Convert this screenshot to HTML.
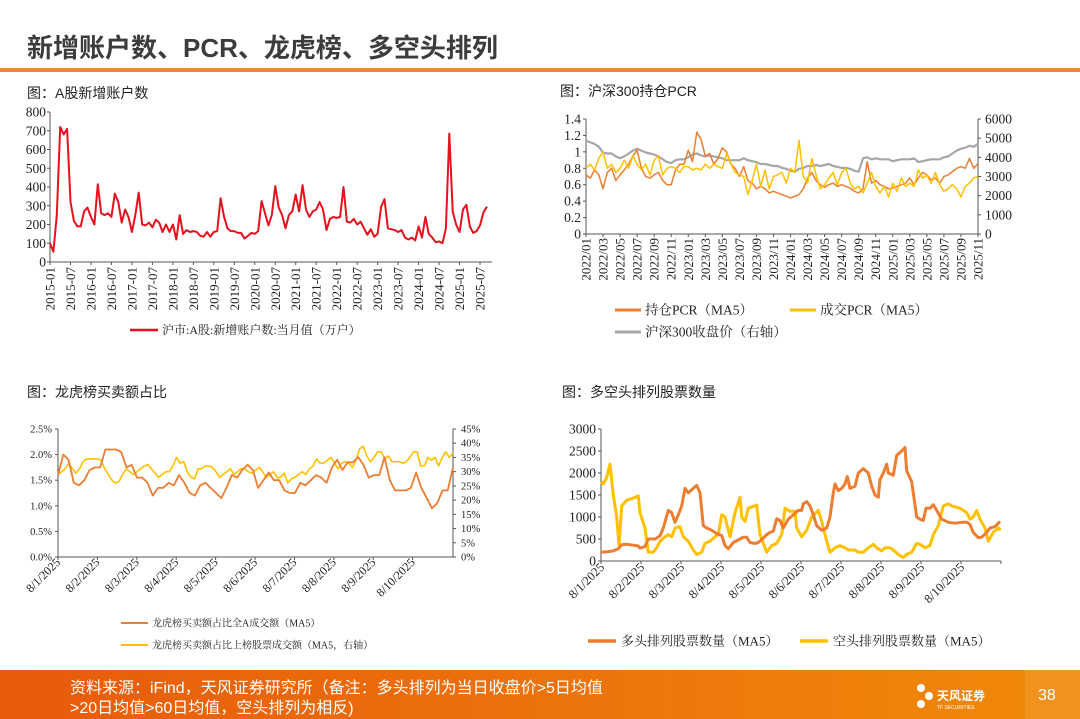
<!DOCTYPE html>
<html><head><meta charset="utf-8"><style>
body{margin:0;background:#fff;width:1080px;height:719px;overflow:hidden}
svg{display:block}
.t{font-family:"Liberation Serif","Noto Serif CJK SC",serif;fill:#222}
.s{font-family:"Liberation Sans","Noto Sans CJK SC",sans-serif}
</style></head><body>
<svg id="svg" width="1080" height="719" viewBox="0 0 1080 719" xmlns="http://www.w3.org/2000/svg">
<text class="s" x="27" y="57" font-size="26" font-weight="bold" fill="#3c3c3c">新增账户数、PCR、龙虎榜、多空头排列</text>
<rect x="0" y="68" width="1080" height="4" fill="#f08a24"/>
<text class="s" x="27" y="98" font-size="14" fill="#222">图：A股新增账户数</text>
<text class="s" x="560" y="96" font-size="14" fill="#222">图：沪深300持仓PCR</text>
<text class="s" x="27" y="397" font-size="14" fill="#222">图：龙虎榜买卖额占比</text>
<text class="s" x="562" y="397" font-size="14" fill="#222">图：多空头排列股票数量</text>
<defs><linearGradient id="fg" x1="0" x2="1"><stop offset="0" stop-color="#e85a0c"/><stop offset="1" stop-color="#f08a0a"/></linearGradient></defs>
<rect x="0" y="670" width="1080" height="49" fill="url(#fg)"/>
<rect x="1025" y="670" width="55" height="49" fill="#f29a2a" opacity="0.6"/>
<text class="s" x="70" y="693" font-size="16" fill="#fff">资料来源：iFind，天风证券研究所（备注：多头排列为当日收盘价&gt;5日均值</text>
<text class="s" x="70" y="713" font-size="16" fill="#fff">&gt;20日均值&gt;60日均值，空头排列为相反)</text>
<g>
<circle cx="921" cy="688" r="4" fill="#fff"/><circle cx="929" cy="696" r="4" fill="#fff"/><circle cx="921" cy="704" r="4" fill="#fff"/>
<text class="s" x="937" y="700" font-size="12" font-weight="bold" fill="#fff">天风证券</text>
<text class="s" x="937" y="709" font-size="5" fill="#fff">TF SECURITIES</text></g>
<text class="s" x="1038" y="700" font-size="16" fill="#fff">38</text>
<g id="g"></g>
</svg>
<script>
// ---- Chart 1 data ----
const c1Start = 2015;
const c1Values = [100,55,250,720,680,710,320,220,190,190,270,290,
240,200,415,260,250,260,240,365,320,210,280,240,
160,250,370,200,195,210,185,225,210,160,200,160,
200,120,250,150,170,160,165,160,140,135,160,135,
160,165,340,240,180,165,165,155,155,125,140,155,
150,165,325,260,195,250,405,290,250,180,250,270,
360,270,410,280,240,270,280,320,280,170,230,240,
235,240,400,215,210,230,200,215,180,145,175,135,
150,295,335,180,175,170,160,170,130,120,130,115,
190,130,240,150,130,105,110,100,180,685,270,200,
160,280,305,190,155,165,195,265,295];
const c1YTicks = [0,100,200,300,400,500,600,700,800];
const c1XLabels = ["2015-01","2015-07","2016-01","2016-07","2017-01","2017-07","2018-01","2018-07","2019-01","2019-07","2020-01","2020-07","2021-01","2021-07","2022-01","2022-07","2023-01","2023-07","2024-01","2024-07","2025-01","2025-07"];
// ---- Chart 2 data (semi-monthly from 2022/01) ----
const c2Hold = [.72,.68,.78,.72,.55,.75,.8,.65,.72,.78,.85,.95,1.02,.8,.7,.68,.72,.75,.65,.6,.6,.78,.85,.85,
1.02,.88,1.24,1.15,.95,.98,.85,.92,1.05,1.0,.85,.8,.7,.82,.65,.62,.55,.58,.55,.5,.52,.5,.48,.46,
.44,.46,.48,.55,.68,.75,.65,.6,.57,.6,.62,.58,.6,.58,.56,.52,.5,.55,.88,.62,.65,.6,.58,.55,
.56,.58,.6,.62,.68,.6,.68,.75,.72,.66,.68,.62,.7,.72,.76,.8,.82,.8,.92,.8,.86];
const c2Trade = [.8,.85,.78,.92,1.0,.8,.85,.75,.8,.9,.8,.95,.85,.78,.85,.72,.9,.95,.72,.8,.82,.8,.75,.82,
.82,.78,.8,.78,.85,.8,.85,.82,.8,.98,.85,.75,.72,.7,.48,.65,.85,.58,.78,.55,.7,.72,.75,.62,
.8,.75,1.14,.7,.62,.92,.72,.55,.6,.68,.75,.6,.75,.8,.62,.55,.58,.5,.62,.75,.58,.5,.58,.45,
.62,.52,.68,.58,.62,.58,.78,.68,.72,.62,.75,.6,.52,.55,.6,.55,.45,.58,.62,.68,.7];
const c2Index = [4880,4780,4700,4550,4250,4200,4200,4050,3950,4050,4200,4350,4450,4350,4250,4200,4150,4050,3900,3750,3700,3850,3900,3900,
4000,4150,4200,4100,4050,4100,4050,4000,3950,3850,3850,3850,3850,3950,3850,3800,3750,3650,3650,3600,3550,3550,3450,3400,
3300,3250,3400,3450,3550,3550,3600,3550,3600,3650,3550,3500,3450,3450,3400,3300,3250,3950,4000,3900,3950,3900,3900,3900,
3800,3850,3900,3900,3900,3950,3750,3800,3850,3900,3900,3900,4000,4050,4200,4350,4450,4500,4600,4550,4700];
const c2YTicks = [0,0.2,0.4,0.6,0.8,1,1.2,1.4];
const c2Y2Ticks = [0,1000,2000,3000,4000,5000,6000];
const c2XLabels = ["2022/01","2022/03","2022/05","2022/07","2022/09","2022/11","2023/01","2023/03","2023/05","2023/07","2023/09","2023/11","2024/01","2024/03","2024/05","2024/07","2024/09","2024/11","2025/01","2025/03","2025/05","2025/07","2025/09","2025/11"];
// ---- Chart 3 data ----
const c3Share = [1.6,2.0,1.9,1.45,1.4,1.5,1.7,1.75,1.75,2.1,2.1,2.1,2.05,1.75,1.8,1.55,1.55,1.45,1.2,1.35,1.35,1.45,1.4,1.6,1.45,1.25,1.2,1.4,1.45,1.35,1.25,1.15,1.35,1.6,1.55,1.7,1.8,1.7,1.35,1.5,1.65,1.5,1.5,1.3,1.25,1.25,1.45,1.4,1.5,1.6,1.55,1.45,1.75,1.9,1.7,1.85,1.85,1.95,1.8,1.55,1.6,1.6,1.95,1.5,1.3,1.3,1.3,1.35,1.65,1.35,1.15,0.95,1.05,1.3,1.3,1.75];
const c3Listed = [29,30,31,33,31,29.5,31,33.5,34.5,34.5,34.5,34.5,34,31,29,27,26,26.5,29,31,30,29,30,31,32,32.5,31,29.5,28,29,30,30,32,35,33,33.5,30,28,27.5,31,31,32,32,31.5,30,28,29,30,31,29,30,31,31,30,29.5,30.5,31.5,30,28,29,30,28,28,29.5,26,27.5,28,29,30,29,31,32,34.5,33,33,34,35,33,31,33,33.5,33,31.5,34,38,39,35.5,33.5,35,37,37,34.5,35.5,33.5,33.5,33.5,33,33.5,35,37,37,32,32,35,34,35,32,35,37,35,36.5];
const c3YTicks = [0,0.5,1.0,1.5,2.0,2.5];
const c3Y2Ticks = [0,5,10,15,20,25,30,35,40,45];
const c3XLabels = ["8/1/2025","8/2/2025","8/3/2025","8/4/2025","8/5/2025","8/6/2025","8/7/2025","8/8/2025","8/9/2025","8/10/2025"];
// ---- Chart 4 data (t = category position, value) ----
const c4LongT = [183,200,220,235,245,260,280,295,300,315,325,345,360,370,385,395,405,415,425,435,445,460,470,480,490,500,515,530,545,555,565,580,600,610,620,630,645,655,670,680,690,700,710,720,730,745,760,775,785,790,800,810,820,830,845,860,870,880,885,895,905,915,922,930,945,955,970,985,995,1005,1015,1020,1030,1040,1045,1060,1070,1085,1095,1100,1115,1130,1140,1150,1158,1170,1180,1190,1205,1225,1245,1265,1280,1290,1300,1315,1325,1340,1350,1365,1380];
const c4LongV = [200,210,230,280,370,380,360,340,290,330,500,500,570,750,1150,1100,880,1050,1250,1650,1550,1650,1720,1550,800,750,700,620,580,350,280,420,500,540,540,420,400,420,520,600,650,680,960,920,750,950,1050,1150,1150,1300,1350,1250,1050,800,700,750,1000,1550,1750,1600,1650,1750,1920,1650,1700,2000,2100,2000,1700,1500,1450,1850,2000,2200,2000,1950,2400,2500,2580,2050,1800,1000,950,920,1200,1200,1280,1150,950,880,860,880,880,830,650,530,540,650,750,780,900];
const c4ShortT = [183,190,200,210,220,230,237,245,260,280,295,300,315,325,340,350,360,375,385,395,405,420,430,445,460,470,485,495,510,525,535,545,555,570,585,600,605,615,625,650,660,680,695,710,725,735,750,765,770,785,800,815,835,845,860,870,885,900,915,925,945,955,970,985,1000,1010,1025,1035,1050,1060,1075,1090,1100,1115,1130,1140,1155,1170,1180,1195,1210,1225,1235,1260,1280,1290,1300,1310,1320,1335,1345,1360,1375,1382];
const c4ShortV = [1800,1750,1900,2200,1500,1000,350,1250,1380,1430,1480,1100,750,200,200,300,450,550,600,550,750,780,550,450,250,150,200,400,450,550,600,1050,1000,550,1100,1450,1000,900,1200,1270,600,200,350,400,600,1200,1130,1130,750,550,700,1000,1150,900,450,200,300,350,300,250,250,200,200,300,380,300,230,300,300,250,150,80,150,200,400,380,300,350,600,800,1250,1300,1250,1200,1100,950,1000,1150,950,750,450,650,750,700];
const c4YTicks = [0,500,1000,1500,2000,2500,3000];
const c4XLabels = ["8/1/2025","8/2/2025","8/3/2025","8/4/2025","8/5/2025","8/6/2025","8/7/2025","8/8/2025","8/9/2025","8/10/2025"];

const NS="http://www.w3.org/2000/svg";
const G=document.getElementById('g');
function mk(tag,attrs,parent){const e=document.createElementNS(NS,tag);for(const k in attrs)e.setAttribute(k,attrs[k]);(parent||G).appendChild(e);return e;}
function txt(x,y,s,size,anchor,extra){const e=mk('text',Object.assign({x:x,y:y,'font-size':size,'text-anchor':anchor||'start',class:'t'},extra||{}));e.textContent=s;return e;}
function poly(pts,color,w){return mk('polyline',{points:pts.map(p=>p[0].toFixed(1)+','+p[1].toFixed(1)).join(' '),fill:'none',stroke:color,'stroke-width':w,'stroke-linejoin':'round'});}

// ===== Chart 1 =====
(function(){
const L=50,R=492,T=112,B=262;
const y=v=>B-(v/800)*(B-T);
const x=i=>L+i*3.413;
let a=mk('line',{x1:L,y1:T,x2:L,y2:B,stroke:'#555','stroke-width':1});

a=mk('line',{x1:L,y1:B,x2:R,y2:B,stroke:'#555','stroke-width':1});

c1YTicks.forEach(v=>{mk('line',{x1:L-3,y1:y(v),x2:L,y2:y(v),stroke:'#555'});const t=txt(L-4,y(v)+4.5,String(v),13.5,'end');
});
c1XLabels.forEach((s,k)=>{const xx=x(k*6);mk('line',{x1:xx,y1:B,x2:xx,y2:B+3,stroke:'#555'});const t=txt(0,0,s,13,'end',{transform:`translate(${xx+4.5},${B+5}) rotate(-90)`});
});
const p=poly(c1Values.map((v,i)=>[x(i),y(v)]),'#e8101c',2);

const l=mk('line',{x1:130,y1:330,x2:158,y2:330,stroke:'#e8101c','stroke-width':2.5});

const lt=txt(162,334,'沪市:A股:新增账户数:当月值（万户）',12,'start');

})();

// ===== Chart 2 =====
(function(){
const L=586,R=978,T=119,B=234;
const y=v=>B-(v/1.4)*(B-T);
const y2=v=>B-(v/6000)*(B-T);
const mw=(R-L)/46;
const x=i=>L+i*mw/2;
let a=mk('line',{x1:L,y1:T,x2:L,y2:B,stroke:'#555'});
a=mk('line',{x1:R,y1:T,x2:R,y2:B,stroke:'#555'});
a=mk('line',{x1:L,y1:B,x2:R,y2:B,stroke:'#555'});
c2YTicks.forEach(v=>{mk('line',{x1:L-3,y1:y(v),x2:L,y2:y(v),stroke:'#555'});const t=txt(L-5,y(v)+4.5,String(v),13.5,'end');
});
c2Y2Ticks.forEach(v=>{mk('line',{x1:R,y1:y2(v),x2:R+3,y2:y2(v),stroke:'#555'});const t=txt(R+7,y2(v)+4.5,String(v),13.5,'start');
});
c2XLabels.forEach((s,k)=>{const xx=x(k*4);mk('line',{x1:xx,y1:B,x2:xx,y2:B+3,stroke:'#555'});const t=txt(0,0,s,13,'end',{transform:`translate(${xx+4.5},${B+4}) rotate(-90)`});
});
let p=poly(c2Index.map((v,i)=>[x(i),y2(v)]),'#a6a6a6',2.2);
p=poly(c2Hold.map((v,i)=>[x(i),y(v)]),'#ed7d31',1.5);
p=poly(c2Trade.map((v,i)=>[x(i),y(v)]),'#ffc000',1.5);
const leg=[[615,310,'#ed7d31','持仓PCR（MA5）'],[790,310,'#ffc000','成交PCR（MA5）'],[615,332,'#a6a6a6','沪深300收盘价（右轴）']];
leg.forEach(d=>{const l=mk('line',{x1:d[0],y1:d[1],x2:d[0]+26,y2:d[1],stroke:d[2],'stroke-width':3});

const t=txt(d[0]+30,d[1]+4.5,d[3],13.5,'start');});
})();

// ===== Chart 3 =====
(function(){
const L=58,R=453,T=429,B=557;
const y=v=>B-(v/2.5)*(B-T);
const y2=v=>B-(v/45)*(B-T);
const iw=39.4;
const span=(R-L)/iw;
const x=t=>L+t*iw;
let a=mk('line',{x1:L,y1:T,x2:L,y2:B,stroke:'#555'});
a=mk('line',{x1:R,y1:T,x2:R,y2:B,stroke:'#555'});
a=mk('line',{x1:L,y1:B,x2:R,y2:B,stroke:'#555'});
c3YTicks.forEach(v=>{mk('line',{x1:L-3,y1:y(v),x2:L,y2:y(v),stroke:'#555'});const t=txt(L-6,y(v)+3.5,v.toFixed(1)+'%',10.5,'end');
});
c3Y2Ticks.forEach(v=>{mk('line',{x1:R,y1:y2(v),x2:R+3,y2:y2(v),stroke:'#555'});const t=txt(R+8,y2(v)+3.5,v+'%',10.5,'start');
});
c3XLabels.forEach((s,k)=>{const xx=x(k);mk('line',{x1:xx,y1:B,x2:xx,y2:B+3,stroke:'#555'});const t=txt(0,0,s,12,'end',{transform:`translate(${xx+3},${B+6}) rotate(-45)`});
});
let p=poly(c3Listed.map((v,i)=>[x(i*span/(c3Listed.length-1)),y2(v)]),'#ffc000',1.6);
p=poly(c3Share.map((v,i)=>[x(i*span/(c3Share.length-1)),y(v)]),'#ed7d31',1.8);
const leg=[[121,623,'#ed7d31','龙虎榜买卖额占比全A成交额（MA5）'],[121,645,'#ffc000','龙虎榜买卖额占比上榜股票成交额（MA5，右轴）']];
leg.forEach(d=>{const l=mk('line',{x1:d[0],y1:d[1],x2:d[0]+27,y2:d[1],stroke:d[2],'stroke-width':2});

const t=txt(d[0]+31,d[1]+3.5,d[3],10,'start');});
})();

// ===== Chart 4 =====
(function(){
const L=601,R=1001,T=429,B=561;
const y=v=>B-(v/3000)*(B-T);
const iw=40;
const x=t=>L+(t-183)/120*iw;
const xi=k=>L+k*iw;
let a=mk('line',{x1:L,y1:T,x2:L,y2:B,stroke:'#555'});
a=mk('line',{x1:L,y1:B,x2:R,y2:B,stroke:'#555'});
mk('line',{x1:R,y1:B,x2:R,y2:B+3,stroke:'#555'});
c4YTicks.forEach(v=>{mk('line',{x1:L-3,y1:y(v),x2:L,y2:y(v),stroke:'#555'});const t=txt(L-5,y(v)+4.5,String(v),13.5,'end');
});
c4XLabels.forEach((s,k)=>{const xx=xi(k);mk('line',{x1:xx,y1:B,x2:xx,y2:B+3,stroke:'#555'});const t=txt(0,0,s,12.5,'end',{transform:`translate(${xx+4},${B+7}) rotate(-45)`});
});
let p=poly(c4ShortT.map((t,i)=>[x(t),y(c4ShortV[i])]),'#ffc000',3);
p=poly(c4LongT.map((t,i)=>[x(t),y(c4LongV[i])]),'#ed7d31',3);
const leg=[[588,641,'#ed7d31','多头排列股票数量（MA5）'],[800,641,'#ffc000','空头排列股票数量（MA5）']];
leg.forEach(d=>{const l=mk('line',{x1:d[0],y1:d[1],x2:d[0]+28,y2:d[1],stroke:d[2],'stroke-width':3.5});

const t=txt(d[0]+33,d[1]+4.5,d[3],13,'start');});
})();
</script>
</body></html>
